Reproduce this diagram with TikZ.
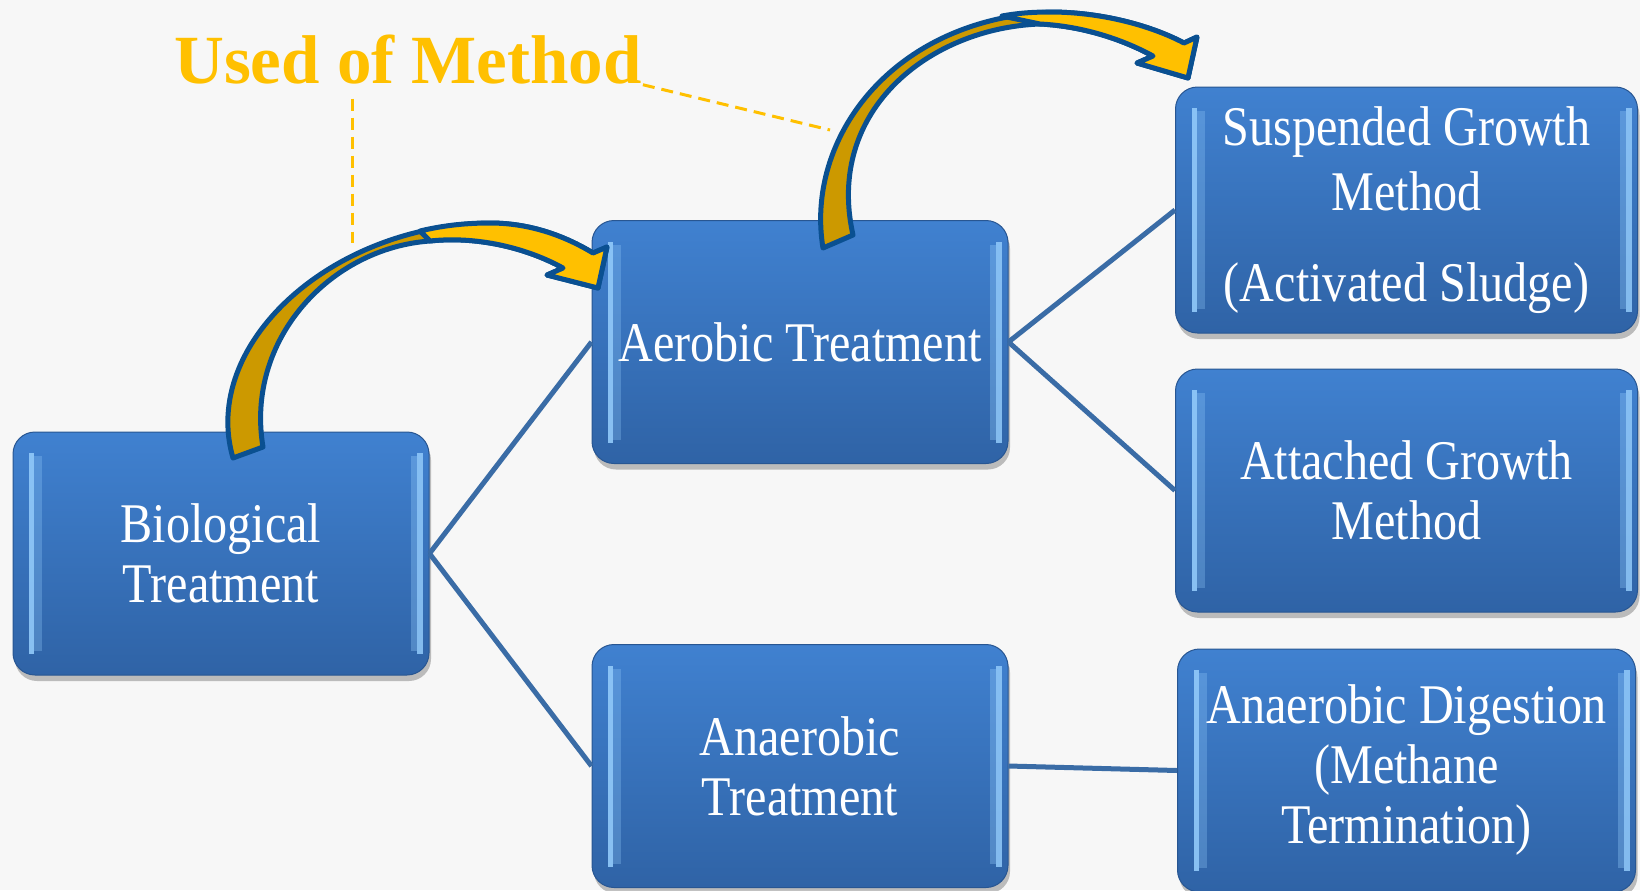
\documentclass[tikz,border=0pt]{standalone}
\usepackage{fontspec}
\usepackage{tikz}
\usetikzlibrary{positioning,shadows}
\newfontfamily\boxfont[FakeStretch=0.86]{Liberation Serif}
\newfontfamily\titlefont{Liberation Serif}
\definecolor{paper}{RGB}{247,247,247}
\definecolor{boxtop}{RGB}{64,129,208}
\definecolor{boxbottom}{RGB}{47,99,166}
\definecolor{boxrim}{RGB}{40,86,146}
\definecolor{bevellight}{RGB}{146,202,250}
\definecolor{linkblue}{RGB}{58,108,166}
\definecolor{goldbright}{RGB}{255,192,0}
\definecolor{golddark}{RGB}{204,153,0}
\definecolor{ribbonblue}{RGB}{10,80,145}

\begin{document}
\begin{tikzpicture}[x=0.5pt, y=-0.5pt, node distance=17.5pt,
  stage/.style={rounded corners=11pt, minimum width=208pt, minimum height=121.5pt, align=center, text=white,
    font=\boxfont\fontsize{28}{30}\selectfont, top color=boxtop, bottom color=boxbottom, draw=boxrim, line width=0.5pt,
    drop shadow={shadow xshift=1pt, shadow yshift=-3pt, opacity=0.35, fill=black!70},
    path picture={
      \fill[sharp corners, bevellight, opacity=0.9] ([xshift=8pt,yshift=-10.5pt]path picture bounding box.north west) rectangle ([xshift=10.5pt,yshift=10.5pt]path picture bounding box.south west);
      \fill[sharp corners, bevellight, opacity=0.3] ([xshift=10.5pt,yshift=-12pt]path picture bounding box.north west) rectangle ([xshift=14.5pt,yshift=12pt]path picture bounding box.south west);
      \fill[sharp corners, bevellight, opacity=0.35] ([xshift=-9pt,yshift=-12pt]path picture bounding box.north east) rectangle ([xshift=-6pt,yshift=12pt]path picture bounding box.south east);
      \fill[sharp corners, bevellight, opacity=0.85] ([xshift=-6pt,yshift=-10.5pt]path picture bounding box.north east) rectangle ([xshift=-3pt,yshift=10.5pt]path picture bounding box.south east);
    }},
  link/.style={draw=linkblue, line width=2.5pt},
  leader/.style={draw=goldbright, line width=1.5pt, dash pattern=on 6pt off 3.5pt},
  ribbon/.style={draw=ribbonblue, line width=2.5pt, line join=round}]
\fill[paper] (0,0) rectangle (1640,890);
\clip (0,0) rectangle (1640,890);
\node[stage] (bio) at (221,553.5) {Biological\\Treatment};
\node[stage] (aer) at (800,342) {Aerobic Treatment};
\node[stage, below=90pt of aer] (ana) {Anaerobic\\Treatment};
\node[stage, minimum width=231pt, minimum height=123pt] (sus) at (1406.5,210) {Suspended Growth\\[2.5pt]Method\\[15.5pt](Activated Sludge)};
\node[stage, minimum width=231pt, below=of sus] (att) {Attached Growth\\Method};
\node[stage, minimum width=229pt, below=18pt of att] (dig) {Anaerobic Digestion\\(Methane\\Termination)};
\draw[link] (bio.east) -- (aer.west);
\draw[link] (bio.east) -- (ana.west);
\draw[link] (aer.east) -- (sus.west);
\draw[link] (aer.east) -- (att.west);
\draw[link] (ana.east) -- (dig.west);
\node[font=\titlefont\bfseries\fontsize{34.5}{40}\selectfont, text=goldbright, anchor=base] (title) at (408,83) {Used of Method};
\coordinate (leadA) at (352,243);
\coordinate (leadB) at (830,130);
\draw[leader] ([yshift=-4pt]title.south -| leadA) -- (leadA);
\draw[leader] ([xshift=-3pt,yshift=3pt]title.south east) -- (leadB);
\draw[ribbon, fill=golddark] (233,458) .. controls (200,345) and (330,225) .. (490,223) .. controls (530,223) and (565,236) .. (593,253) -- (607,247) -- (598,288) -- (547,275) -- (563,268) .. controls (525,247) and (475,236) .. (430,241) .. controls (330,248) and (245,340) .. (263,447) -- cycle;
\draw[ribbon, fill=goldbright] (420,231) .. controls (445,225) and (468,223) .. (490,223) .. controls (530,223) and (565,236) .. (593,253) -- (607,247) -- (598,288) -- (547,275) -- (563,268) .. controls (525,247) and (475,236) .. (430,241) -- cycle;
\draw[ribbon, fill=golddark] (823,248) .. controls (805,140) and (890,20) .. (1050,12) .. controls (1100,12) and (1150,25) .. (1184,43) -- (1197,37) -- (1188,78) -- (1137,63) -- (1153,56) .. controls (1120,38) and (1080,26) .. (1040,24) .. controls (930,28) and (825,110) .. (853,235) -- cycle;
\draw[ribbon, fill=goldbright] (1002,16) .. controls (1018,13) and (1034,12) .. (1050,12) .. controls (1100,12) and (1150,25) .. (1184,43) -- (1197,37) -- (1188,78) -- (1137,63) -- (1153,56) .. controls (1120,38) and (1080,26) .. (1040,24) -- cycle;
\end{tikzpicture}
\end{document}
